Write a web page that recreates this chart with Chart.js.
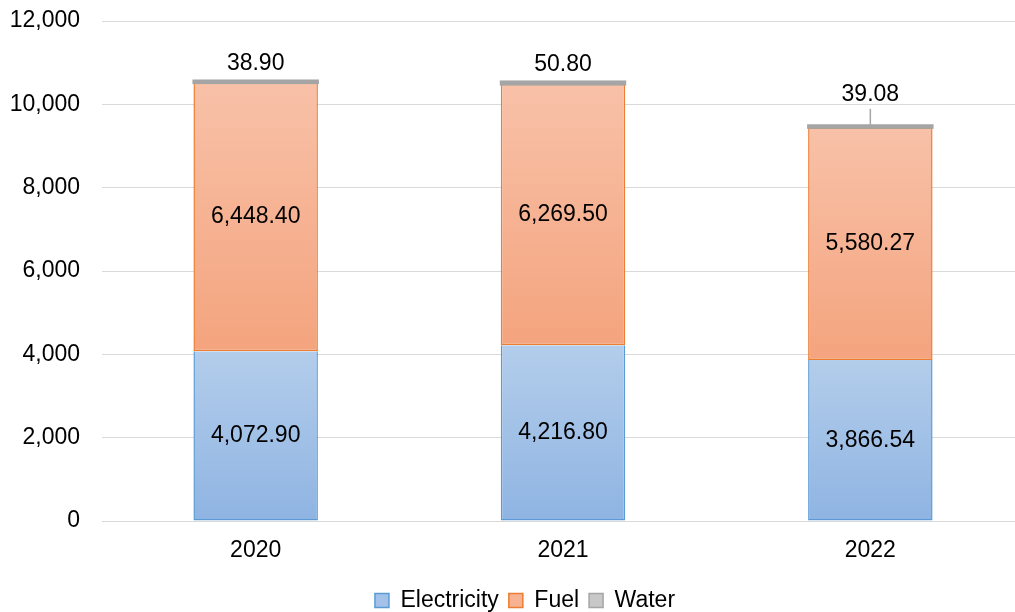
<!DOCTYPE html>
<html>
<head>
<meta charset="utf-8">
<script src="https://cdn.jsdelivr.net/npm/chart.js@4/dist/chart.umd.min.js"></script>
<style>
  html, body { margin: 0; padding: 0; background: #fff; overflow: hidden; }
  #wrap { position: absolute; left: 0; top: 0; width: 1024px; height: 630px; }
</style>
</head>
<body>
<div id="wrap"><canvas id="c" width="1024" height="630"></canvas></div>
<script>
const categories = ['2020', '2021', '2022'];
const electricity = [4072.90, 4216.80, 3866.54];
const fuel = [6448.40, 6269.50, 5580.27];
const water = [38.90, 50.80, 39.08];
const seriesNames = ['Electricity', 'Fuel', 'Water'];
const yMin = 0, yMax = 12000, yStep = 2000;

const FONT = '"Liberation Sans", Arial, sans-serif';
const FS = 23;

function grad(top, bottom) {
  return (ctx) => {
    const chart = ctx.chart;
    const ys = chart.scales && chart.scales.y;
    if (!ys || ctx.type !== 'data') return bottom;
    let start = 0;
    for (let d = 0; d < ctx.datasetIndex; d++) start += chart.data.datasets[d].data[ctx.dataIndex];
    const end = start + chart.data.datasets[ctx.datasetIndex].data[ctx.dataIndex];
    const y0 = ys.getPixelForValue(end), y1 = ys.getPixelForValue(start);
    if (!isFinite(y0) || !isFinite(y1) || Math.abs(y1 - y0) < 1) return bottom;
    const g = chart.ctx.createLinearGradient(0, y0, 0, y1);
    g.addColorStop(0, top);
    g.addColorStop(1, bottom);
    return g;
  };
}

const fmt = v => v.toLocaleString('en-US', { minimumFractionDigits: 2, maximumFractionDigits: 2 });

const legendShift = {
  id: 'legendShift',
  afterLayout(chart) {
    if (chart.legend) { chart.legend.left = 26; chart.legend.width = chart.legend.right - 26; }
  }
};

const labelPlugin = {
  id: 'segLabels',
  afterDatasetsDraw(chart) {
    const ctx = chart.ctx;
    ctx.save();
    const wMeta = chart.getDatasetMeta(2);
    wMeta.data.forEach(el => {
      const h = Math.abs(el.base - el.y);
      ctx.fillStyle = '#a5a5a5';
      ctx.fillRect(el.x - el.width / 2 - 1, el.y - 1.5, el.width + 2, h + 3);
    });
    ctx.font = FS + 'px ' + FONT;
    ctx.fillStyle = '#000';
    ctx.textAlign = 'center';
    ctx.textBaseline = 'middle';
    const lift = [17, 17, 31];
    chart.data.datasets.forEach((ds, di) => {
      const meta = chart.getDatasetMeta(di);
      meta.data.forEach((el, i) => {
        const txt = fmt(ds.data[i]);
        if (di < 2) {
          ctx.fillText(txt, el.x, (el.y + el.base) / 2);
        } else {
          const ly = el.y - lift[i];
          ctx.fillText(txt, el.x, ly);
          if (lift[i] > 20) {
            ctx.strokeStyle = '#a5a5a5';
            ctx.lineWidth = 1.5;
            ctx.beginPath();
            ctx.moveTo(el.x, ly + 14);
            ctx.lineTo(el.x, el.y - 1);
            ctx.stroke();
          }
        }
      });
    });
    ctx.restore();
  }
};

new Chart(document.getElementById('c'), {
  type: 'bar',
  data: {
    labels: categories,
    datasets: [
      {
        label: seriesNames[0], data: electricity,
        backgroundColor: grad('#b3cdeb', '#8fb4e2'),
        borderColor: '#5b9bd5', borderWidth: 1.5, borderSkipped: 'top'
      },
      {
        label: seriesNames[1], data: fuel,
        backgroundColor: grad('#f8c1a8', '#f4a47e'),
        borderColor: '#ed7d31', borderWidth: 1.5, borderSkipped: false
      },
      {
        label: seriesNames[2], data: water,
        backgroundColor: '#a5a5a5',
        borderColor: '#a5a5a5', borderWidth: 0
      }
    ]
  },
  options: {
    responsive: false,
    animation: false,
    devicePixelRatio: 1,
    layout: { padding: { left: 10, right: 0, top: 21, bottom: 8 } },
    datasets: { bar: { barPercentage: 1, categoryPercentage: 0.405 } },
    scales: {
      x: {
        stacked: true,
        grid: { display: false, drawTicks: false },
        border: { display: true, color: '#d9d9d9', width: 1 },
        ticks: { color: '#000', font: { family: FONT, size: FS }, padding: 16 },
        afterFit: s => { s.height = 58; s.paddingLeft = 0; s.paddingRight = 0; }
      },
      y: {
        stacked: true,
        min: yMin, max: yMax,
        grid: { color: '#d9d9d9', lineWidth: 1, drawTicks: false },
        border: { display: false },
        ticks: { stepSize: yStep, color: '#000', font: { family: FONT, size: FS }, padding: 22 },
        afterFit: s => { s.width = 92; s.paddingTop = 0; s.paddingBottom = 0; }
      }
    },
    plugins: {
      tooltip: { enabled: false },
      legend: {
        position: 'bottom',
        labels: {
          color: '#000',
          font: { family: FONT, size: FS },
          boxWidth: 14, boxHeight: 14, padding: 10,
          generateLabels: chart => [
            { text: seriesNames[0], fillStyle: '#a4c2e8', strokeStyle: '#5b9bd5', lineWidth: 1.5, datasetIndex: 0 },
            { text: seriesNames[1], fillStyle: '#f6b293', strokeStyle: '#ed7d31', lineWidth: 1.5, datasetIndex: 1 },
            { text: seriesNames[2], fillStyle: '#c8c8c8', strokeStyle: '#a5a5a5', lineWidth: 1.5, datasetIndex: 2 }
          ]
        }
      }
    }
  },
  plugins: [legendShift, labelPlugin]
});
</script>
</body>
</html>
